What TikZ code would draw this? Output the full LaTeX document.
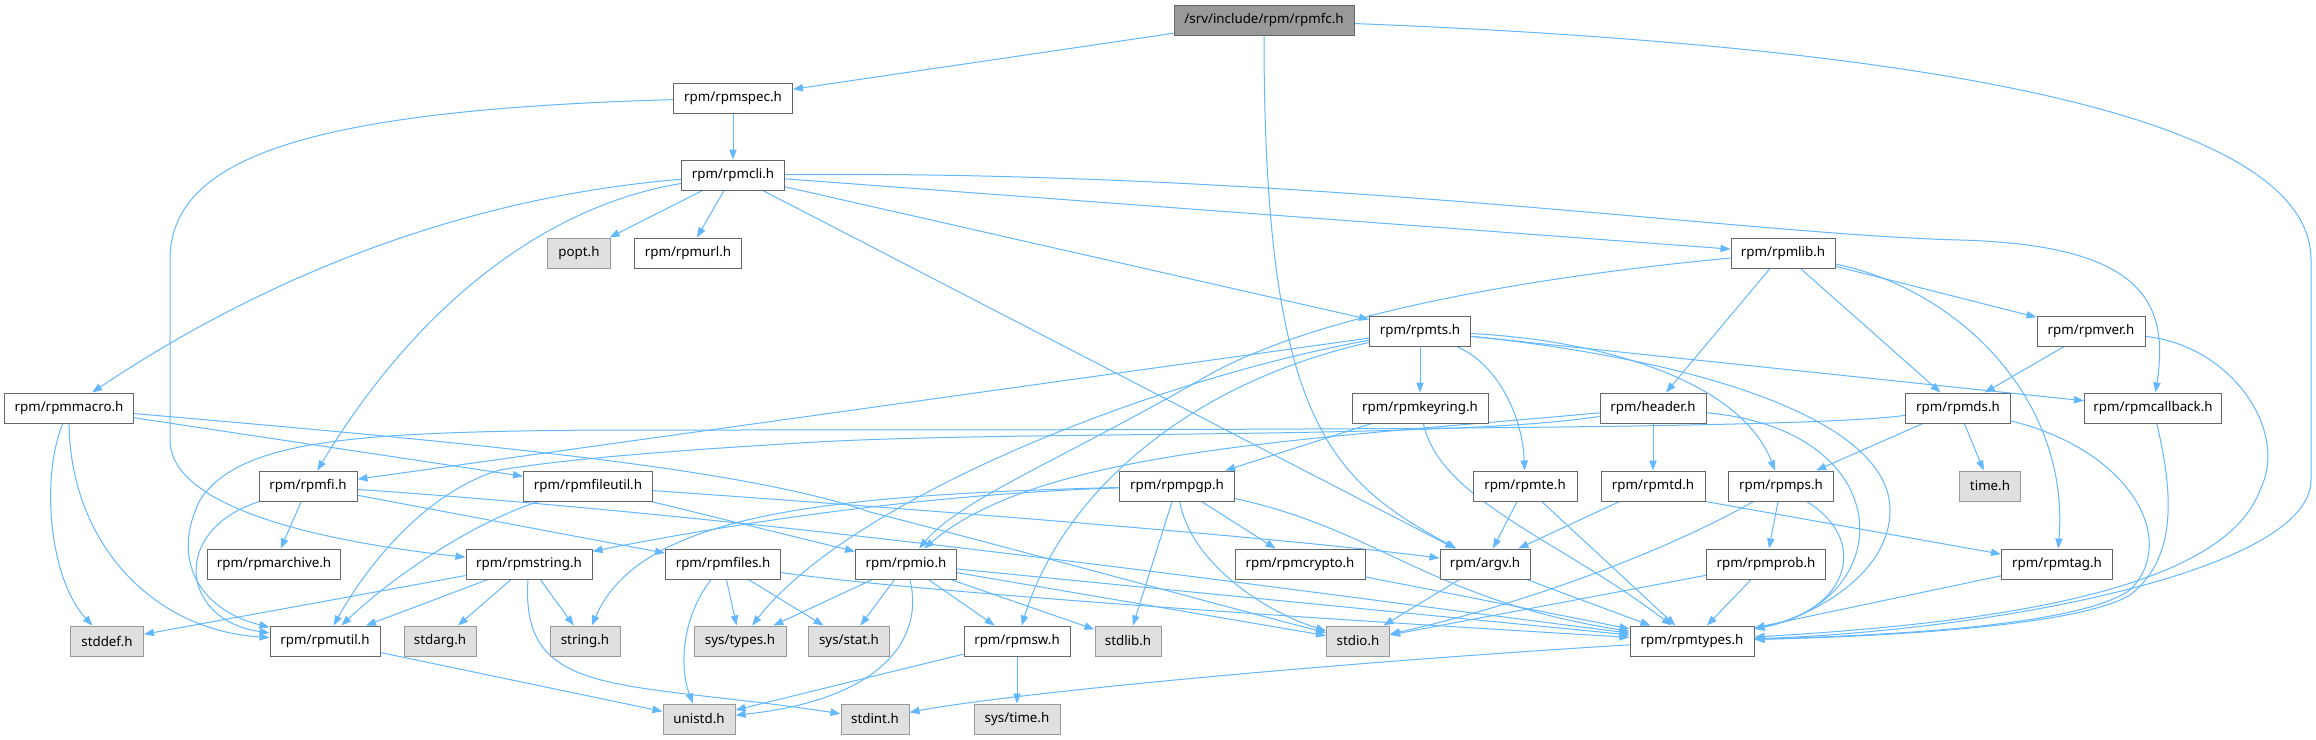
\documentclass[tikz,border=0pt]{standalone}
\usepackage{fontspec}
\setmainfont{Noto Sans}
\usetikzlibrary{arrows.meta,backgrounds}
\definecolor{edgeblue}{HTML}{63B8FF}
\definecolor{nodeline}{HTML}{666666}
\definecolor{sysline}{HTML}{999999}
\definecolor{sysfill}{HTML}{E0E0E0}
\definecolor{mainfill}{HTML}{999999}
\begin{document}
\begin{tikzpicture}[>={Triangle[length=7.5pt,width=5.5pt]},x=0.75pt,y=-0.75pt,
	box/.style={draw=nodeline,fill=white,line width=0.75pt,inner sep=0pt,minimum height=22.5pt,minimum width=#1*0.75pt},
	sys/.style={box=#1,draw=sysline,fill=sysfill},
	top/.style={box=#1,fill=mainfill},
	e/.style={->,draw=edgeblue,line width=0.75pt}]
	\node[top=180] (fc) at (1264,20) {/srv/include/rpm/rpmfc.h};
	\node[box=119] (spec) at (733,98) {rpm/rpmspec.h};
	\node[box=103] (cli) at (733,175) {rpm/rpmcli.h};
	\node[sys=63] (popt) at (579,253) {popt.h};
	\node[box=107] (url) at (688,253) {rpm/rpmurl.h};
	\node[box=104] (lib) at (1783,253) {rpm/rpmlib.h};
	\node[box=101] (ts) at (1420,331) {rpm/rpmts.h};
	\node[box=108] (ver) at (2091,331) {rpm/rpmver.h};
	\node[box=129] (macro) at (69,408) {rpm/rpmmacro.h};
	\node[box=136] (keyring) at (1420,408) {rpm/rpmkeyring.h};
	\node[box=106] (header) at (1653,408) {rpm/header.h};
	\node[box=105] (ds) at (1958,408) {rpm/rpmds.h};
	\node[box=137] (callback) at (2153,408) {rpm/rpmcallback.h};
	\node[box=98] (fi) at (308,486) {rpm/rpmfi.h};
	\node[box=129] (fileutil) at (588,486) {rpm/rpmfileutil.h};
	\node[box=115] (pgp) at (1177,486) {rpm/rpmpgp.h};
	\node[box=104] (te) at (1525,486) {rpm/rpmte.h};
	\node[box=104] (td) at (1653,486) {rpm/rpmtd.h};
	\node[box=105] (ps) at (1781,486) {rpm/rpmps.h};
	\node[sys=61] (timeh) at (1990,486) {time.h};
	\node[box=133] (archive) at (274,564) {rpm/rpmarchive.h};
	\node[box=126] (rstring) at (529,564) {rpm/rpmstring.h};
	\node[box=115] (files) at (723,564) {rpm/rpmfiles.h};
	\node[box=101] (io) at (906,564) {rpm/rpmio.h};
	\node[box=130] (crypto) at (1300,564) {rpm/rpmcrypto.h};
	\node[box=90] (argv) at (1485,564) {rpm/argv.h};
	\node[box=119] (prob) at (1766,564) {rpm/rpmprob.h};
	\node[box=111] (tag) at (2057,564) {rpm/rpmtag.h};
	\node[sys=73] (stddef) at (107,641) {stddef.h};
	\node[box=110] (util) at (325,641) {rpm/rpmutil.h};
	\node[sys=72] (stdarg) at (440,641) {stdarg.h};
	\node[sys=70] (stringh) at (585,641) {string.h};
	\node[sys=92] (systypes) at (740,641) {sys/types.h};
	\node[sys=81] (sysstat) at (849,641) {sys/stat.h};
	\node[box=106] (sw) at (1017,641) {rpm/rpmsw.h};
	\node[sys=66] (stdlib) at (1128,641) {stdlib.h};
	\node[sys=63] (stdio) at (1358,641) {stdio.h};
	\node[box=124] (types) at (1692,641) {rpm/rpmtypes.h};
	\node[sys=72] (unistd) at (699,719) {unistd.h};
	\node[sys=68] (stdint) at (875,719) {stdint.h};
	\node[sys=86] (systime) at (1017,719) {sys/time.h};
	\begin{scope}[on background layer]
	\fill[white] (0,0) rectangle (2316,739);
	\draw[e] (fc) -- (spec);
	\draw[e] (fc) .. controls (1264,420) and (1330,480) .. (argv);
	\draw[e] (fc) .. controls (1900,45) and (2311,110) .. (2311,260) -- (2311,480) .. controls (2311,570) and (2000,630) .. (types);
	\draw[e] (spec) -- (cli);
	\draw[e] (spec) .. controls (300,110) and (170,160) .. (170,260) -- (170,440) .. controls (170,520) and (380,548) .. (rstring);
	\draw[e] (cli) -- (popt);
	\draw[e] (cli) -- (url);
	\draw[e] (cli) .. controls (430,200) and (230,300) .. (macro);
	\draw[e] (cli) .. controls (550,205) and (420,300) .. (fi);
	\draw[e] (cli) -- (argv);
	\draw[e] (cli) -- (ts);
	\draw[e] (cli) -- (lib);
	\draw[e] (cli) .. controls (1300,170) and (1750,235) .. (1960,240) .. controls (2140,245) and (2170,300) .. (callback);
	\draw[e] (lib) .. controls (1500,280) and (1300,320) .. (1200,380) .. controls (1060,460) and (960,500) .. (io);
	\draw[e] (lib) -- (header);
	\draw[e] (lib) -- (ds);
	\draw[e] (lib) .. controls (1960,290) and (2070,400) .. (tag);
	\draw[e] (lib) -- (ver);
	\draw[e] (ver) -- (ds);
	\draw[e] (ver) .. controls (2230,345) and (2290,430) .. (2260,490) .. controls (2220,600) and (1950,625) .. (types);
	\draw[e] (ts) -- (keyring);
	\draw[e] (ts) .. controls (1500,365) and (1523,420) .. (te);
	\draw[e] (ts) -- (fi);
	\draw[e] (ts) .. controls (1150,380) and (850,500) .. (systypes);
	\draw[e] (ts) .. controls (1180,385) and (1060,500) .. (sw);
	\draw[e] (ts) .. controls (1600,340) and (1740,380) .. (ps);
	\draw[e] (ts) .. controls (1700,360) and (1890,420) .. (1890,510) .. controls (1890,580) and (1800,620) .. (types);
	\draw[e] (ts) -- (callback);
	\draw[e] (macro) .. controls (40,480) and (50,580) .. (stddef);
	\draw[e] (macro) .. controls (70,540) and (150,630) .. (util);
	\draw[e] (macro) -- (fileutil);
	\draw[e] (macro) .. controls (500,445) and (750,470) .. (870,512) .. controls (1000,545) and (1200,600) .. (stdio);
	\draw[e] (keyring) -- (pgp);
	\draw[e] (keyring) .. controls (1440,500) and (1560,540) .. (types);
	\draw[e] (header) -- (td);
	\draw[e] (header) .. controls (1300,440) and (1040,450) .. (io);
	\draw[e] (header) .. controls (1450,440) and (1000,430) .. (800,443) .. controls (650,452) and (560,460) .. (500,470) .. controls (430,490) and (370,560) .. (util);
	\draw[e] (header) .. controls (1900,430) and (1900,600) .. (types);
	\draw[e] (ds) -- (ps);
	\draw[e] (ds) -- (timeh);
	\draw[e] (ds) .. controls (2130,450) and (2180,540) .. (2130,590) .. controls (2080,625) and (1900,635) .. (types);
	\draw[e] (ds) .. controls (1800,430) and (1200,430) .. (600,430) .. controls (350,432) and (240,440) .. (200,500) .. controls (170,560) and (200,610) .. (util);
	\draw[e] (callback) .. controls (2175,500) and (2175,560) .. (2130,595) .. controls (2080,625) and (1900,636) .. (types);
	\draw[e] (fi) -- (archive);
	\draw[e] (fi) .. controls (170,530) and (180,620) .. (util);
	\draw[e] (fi) -- (files);
	\draw[e] (fi) .. controls (800,520) and (1250,585) .. (types);
	\draw[e] (fileutil) .. controls (480,520) and (400,570) .. (util);
	\draw[e] (fileutil) -- (io);
	\draw[e] (fileutil) .. controls (1000,515) and (1300,540) .. (argv);
	\draw[e] (pgp) .. controls (900,495) and (700,530) .. (rstring);
	\draw[e] (pgp) .. controls (820,495) and (640,515) .. (stringh);
	\draw[e] (pgp) -- (crypto);
	\draw[e] (pgp) -- (stdlib);
	\draw[e] (pgp) .. controls (1190,560) and (1260,610) .. (stdio);
	\draw[e] (pgp) .. controls (1380,530) and (1430,600) .. (types);
	\draw[e] (te) -- (argv);
	\draw[e] (te) -- (types);
	\draw[e] (td) -- (argv);
	\draw[e] (td.south east) -- (tag);
	\draw[e] (ps) -- (prob);
	\draw[e] (ps) .. controls (1870,540) and (1850,610) .. (types);
	\draw[e] (ps) .. controls (1650,560) and (1500,610) .. (stdio);
	\draw[e] (prob) -- (stdio);
	\draw[e] (prob) -- (types);
	\draw[e] (tag) -- (types);
	\draw[e] (argv) -- (stdio);
	\draw[e] (argv) -- (types);
	\draw[e] (crypto) -- (types);
	\draw[e] (io) -- (systypes);
	\draw[e] (io) -- (sysstat);
	\draw[e] (io) -- (sw);
	\draw[e] (io) .. controls (925,640) and (880,700) .. (unistd);
	\draw[e] (io) -- (stdlib);
	\draw[e] (io) -- (stdio);
	\draw[e] (io) -- (types);
	\draw[e] (sw) -- (systime);
	\draw[e] (sw) -- (unistd);
	\draw[e] (files) -- (systypes);
	\draw[e] (files) -- (sysstat);
	\draw[e] (files) .. controls (680,620) and (680,670) .. (unistd);
	\draw[e] (files) .. controls (900,590) and (1250,615) .. (types);
	\draw[e] (rstring) -- (stddef);
	\draw[e] (rstring) -- (util);
	\draw[e] (rstring) -- (stdarg);
	\draw[e] (rstring) -- (stringh);
	\draw[e] (rstring) .. controls (520,700) and (620,680) .. (stdint);
	\draw[e] (util) -- (unistd);
	\draw[e] (types) .. controls (1300,665) and (1000,695) .. (stdint);
	\end{scope}
	\useasboundingbox (0,0) rectangle (2316,739);
\end{tikzpicture}
\end{document}
